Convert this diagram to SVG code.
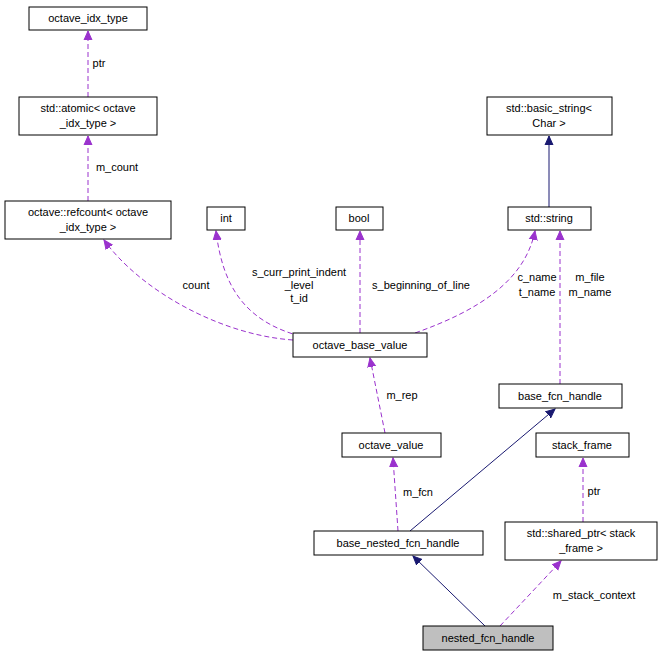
<svg xmlns="http://www.w3.org/2000/svg" width="665" height="659" viewBox="0 0 665 659">
<defs>
<style>
.n rect{fill:#fff;stroke:#000;stroke-width:1}
text{font-family:"Liberation Sans",Arial,sans-serif;font-size:11px;fill:#000}
.n text{text-anchor:middle}
.d{fill:none;stroke:#9a32cd;stroke-dasharray:5,3}
.s{fill:none;stroke:#191970}
.l{text-anchor:middle}
</style>
<marker id="mp" markerWidth="10" markerHeight="10" refX="9" refY="5" orient="auto" markerUnits="userSpaceOnUse"><path d="M0,1 L9,5 L0,9 Z" fill="#9a32cd" stroke="#9a32cd"/></marker>
<marker id="ms" markerWidth="10" markerHeight="10" refX="9" refY="5" orient="auto" markerUnits="userSpaceOnUse"><path d="M0,1 L9,5 L0,9 Z" fill="#191970" stroke="#191970"/></marker>
</defs>
<rect width="665" height="659" fill="#fff"/>
<g id="connectors">
<path class="d" d="M88,97 L88,31" marker-end="url(#mp)"/>
<text class="l" x="99" y="67">ptr</text>
<path class="d" d="M88,201 L88,136" marker-end="url(#mp)"/>
<text class="l" x="117" y="171">m_count</text>
<path class="d" d="M293,340 C220,335 140,290 104,240" marker-end="url(#mp)"/>
<text class="l" x="196" y="289">count</text>
<path class="d" d="M300,336 C240,320 222,280 216,231" marker-end="url(#mp)"/>
<text class="l" x="299" y="276">s_curr_print_indent</text>
<text class="l" x="299" y="289">_level</text>
<text class="l" x="299" y="302">t_id</text>
<path class="d" d="M360,333 L360,231" marker-end="url(#mp)"/>
<text class="l" x="421" y="289">s_beginning_of_line</text>
<path class="d" d="M415,333 C480,310 525,280 535,231" marker-end="url(#mp)"/>
<text class="l" x="537" y="281">c_name</text>
<text class="l" x="537" y="296">t_name</text>
<path class="d" d="M560,384 L560,231" marker-end="url(#mp)"/>
<text class="l" x="590" y="281">m_file</text>
<text class="l" x="590" y="296">m_name</text>
<path class="s" d="M549,207 L549,136" marker-end="url(#ms)"/>
<path class="d" d="M385,433 L370,358" marker-end="url(#mp)"/>
<text class="l" x="402" y="399">m_rep</text>
<path class="d" d="M398,531 L393,458" marker-end="url(#mp)"/>
<text class="l" x="418" y="496">m_fcn</text>
<path class="s" d="M410,531 L555,409" marker-end="url(#ms)"/>
<path class="d" d="M583,522 L583,458" marker-end="url(#mp)"/>
<text class="l" x="594" y="495">ptr</text>
<path class="s" d="M485,626 L413,556" marker-end="url(#ms)"/>
<path class="d" d="M500,626 L561,561" marker-end="url(#mp)"/>
<text class="l" x="594" y="599">m_stack_context</text>
</g>
<g id="octave_idx_type" class="n"><rect x="29" y="7" width="118" height="23"/><text x="88" y="22">octave_idx_type</text></g>
<g id="atomic" class="n"><rect x="19" y="97" width="138" height="38"/><text x="88" y="112">std::atomic&lt; octave</text><text x="88" y="127">_idx_type &gt;</text></g>
<g id="refcount" class="n"><rect x="5" y="201" width="166" height="38"/><text x="88" y="216">octave::refcount&lt; octave</text><text x="88" y="231">_idx_type &gt;</text></g>
<g id="int" class="n"><rect x="207" y="207" width="38" height="23"/><text x="226" y="222">int</text></g>
<g id="bool" class="n"><rect x="336" y="207" width="47" height="23"/><text x="359" y="222">bool</text></g>
<g id="basic_string" class="n"><rect x="487" y="97" width="125" height="38"/><text x="549" y="112">std::basic_string&lt;</text><text x="549" y="127">Char &gt;</text></g>
<g id="std_string" class="n"><rect x="508" y="207" width="83" height="23"/><text x="549" y="222">std::string</text></g>
<g id="octave_base_value" class="n"><rect x="293" y="333" width="134" height="24"/><text x="360" y="349">octave_base_value</text></g>
<g id="base_fcn_handle" class="n"><rect x="499" y="384" width="123" height="24"/><text x="560" y="400">base_fcn_handle</text></g>
<g id="octave_value" class="n"><rect x="342" y="433" width="99" height="24"/><text x="391" y="449">octave_value</text></g>
<g id="stack_frame" class="n"><rect x="536" y="433" width="93" height="24"/><text x="582" y="449">stack_frame</text></g>
<g id="base_nested_fcn_handle" class="n"><rect x="314" y="531" width="169" height="24"/><text x="398" y="547">base_nested_fcn_handle</text></g>
<g id="shared_ptr" class="n"><rect x="505" y="522" width="152" height="38"/><text x="581" y="537">std::shared_ptr&lt; stack</text><text x="581" y="552">_frame &gt;</text></g>
<g id="nested_fcn_handle" class="n"><rect x="423" y="626" width="130" height="24" style="fill:#bfbfbf"/><text x="488" y="642">nested_fcn_handle</text></g>
</svg>
